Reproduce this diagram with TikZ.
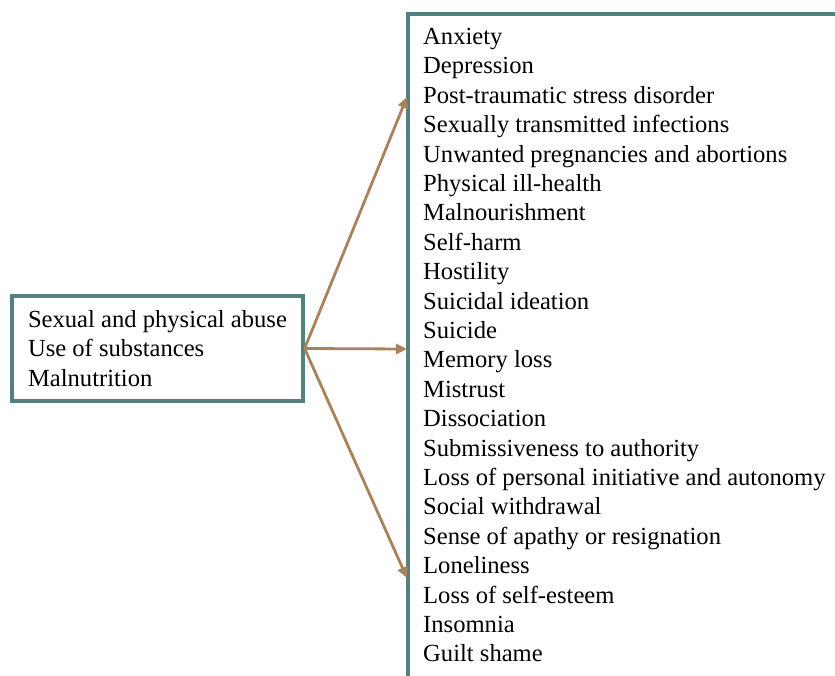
\documentclass[tikz,border=0pt]{standalone}
\usepackage{fontspec}
\setmainfont{Liberation Serif}
\usepackage{xcolor}
\usetikzlibrary{arrows.meta,positioning}
\definecolor{frameteal}{RGB}{84,128,128}
\definecolor{arrowbrown}{RGB}{168,130,90}

\begin{document}
\begin{tikzpicture}[x=1pt, y=-1pt, >={Triangle[length=11pt,width=10pt]},
    box/.style={draw=frameteal, line width=3.2pt},
    txt/.style={font=\fontsize{24.6}{29.4}\selectfont, align=left, inner sep=0pt},
    arr/.style={->, draw=arrowbrown, fill=arrowbrown, line width=2.8pt}]
  \useasboundingbox (0,0) rectangle (835,675);
  \clip (0,0) rectangle (835,675);
  % causes on the left
  \node[box, txt, minimum width=291pt, minimum height=105pt]
    (causes) at (157.5,348.5)
    {Sexual and physical abuse\\Use of substances\\Malnutrition};
  % list of effects on the right
  \draw[box] (408,14) rectangle (900,720);
  \node[txt, anchor=north west] (effects) at (423,28)
    {Anxiety\\Depression\\Post-traumatic stress disorder\\
     Sexually transmitted infections\\Unwanted pregnancies and abortions\\
     Physical ill-health\\Malnourishment\\Self-harm\\Hostility\\
     Suicidal ideation\\Suicide\\Memory loss\\Mistrust\\Dissociation\\
     Submissiveness to authority\\Loss of personal initiative and autonomy\\
     Social withdrawal\\Sense of apathy or resignation\\Loneliness\\
     Loss of self-esteem\\Insomnia\\Guilt shame};
  \coordinate (toptip) at (407,97);
  \coordinate (midtip) at (407,349);
  \coordinate (lowtip) at (407,578);
  \draw[arr] (causes.east) -- (toptip);
  \draw[arr] (causes.east) -- (midtip);
  \draw[arr] (causes.east) -- (lowtip);
\end{tikzpicture}
\end{document}
